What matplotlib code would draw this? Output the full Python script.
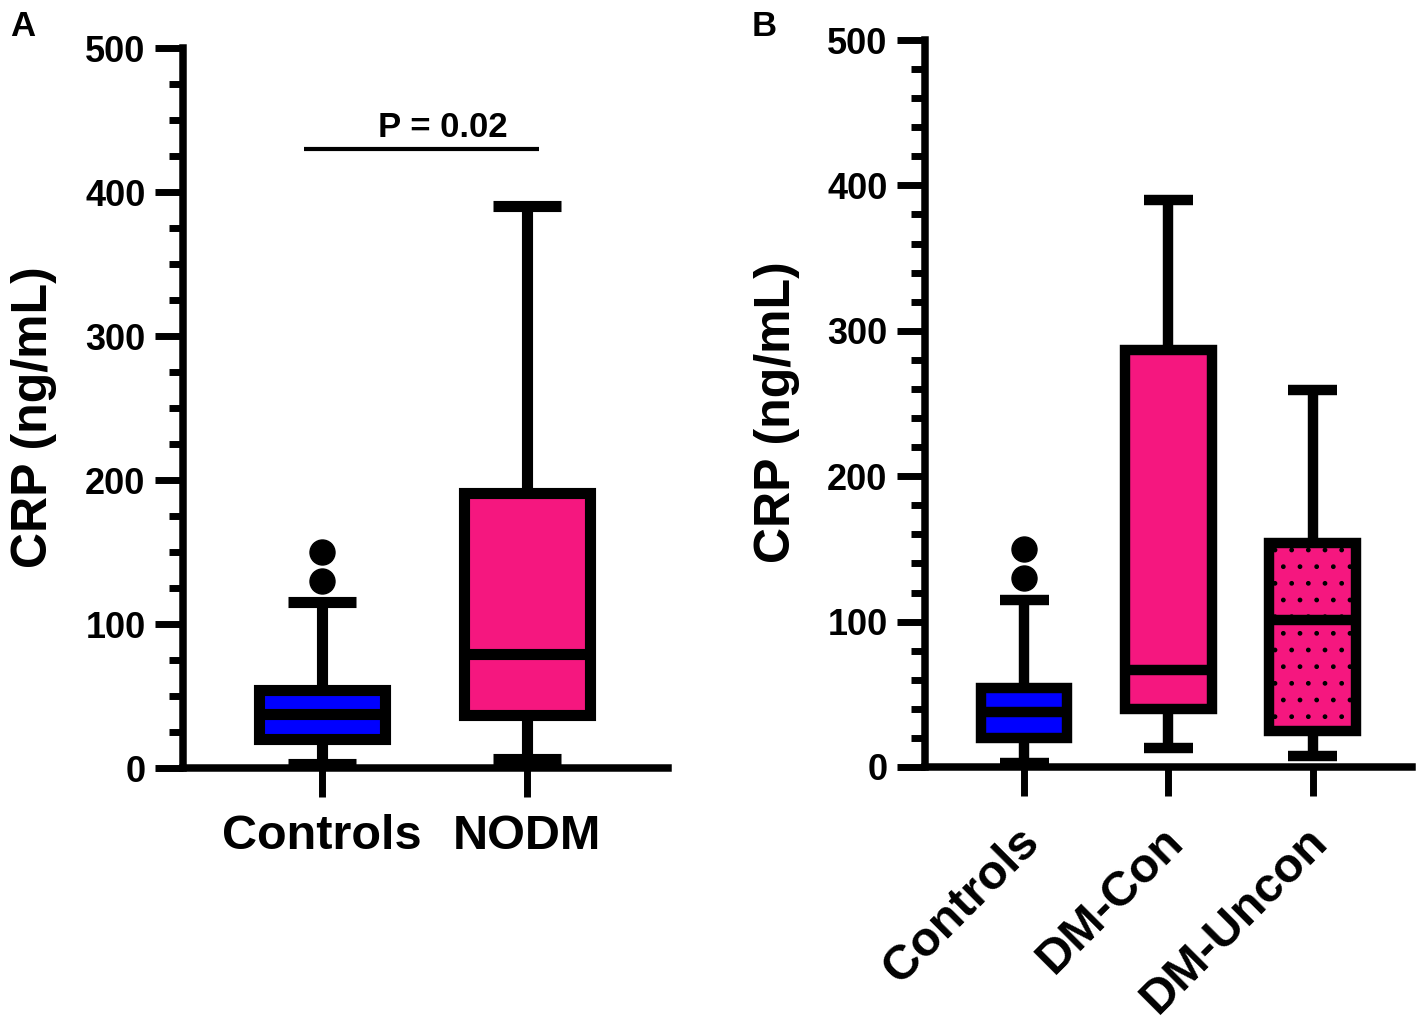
import matplotlib
matplotlib.use("Agg")
import matplotlib.pyplot as plt
from matplotlib.ticker import MultipleLocator
from matplotlib.transforms import ScaledTranslation

plt.rcParams['font.family'] = ['Liberation Sans', 'DejaVu Sans']
plt.rcParams['font.weight'] = 'bold'

# panel A: Controls vs NODM
groups_a = ['Controls', 'NODM']
q1_a = [20, 37]
med_a = [37.5, 79]
q3_a = [54, 191]
lo_a = [3, 6]
hi_a = [115, 390]
fliers_a = [[130, 150], []]

# panel B: Controls, DM-Con, DM-Uncon
groups_b = ['Controls', 'DM-Con', 'DM-Uncon']
q1_b = [20, 40, 25]
med_b = [37.5, 66.5, 101]
q3_b = [54, 287, 154]
lo_b = [3, 13, 7.5]
hi_b = [115, 390, 259]
fliers_b = [[130, 150], [], []]
hatches_b = [None, None, '.']

colors_a = ['#0000FF', '#F5177F']
colors_b = ['#0000FF', '#F5177F', '#F5177F']

p_text = 'P = 0.02'
p_bar_x = [0.91, 2.06]
p_bar_y = 430
p_text_xy = (1.59, 438)

BLACK = 'black'


def stats(q1, med, q3, lo, hi, fl, names):
    out = []
    for i in range(len(names)):
        out.append({'q1': q1[i], 'med': med[i], 'q3': q3[i],
                    'whislo': lo[i], 'whishi': hi[i], 'fliers': fl[i],
                    'label': names[i]})
    return out


def draw_box(ax, st, colors, lw, width, capw, hatches=None):
    n = len(st)
    pos = list(range(1, n + 1))
    bp = ax.bxp(st, positions=pos, widths=width, capwidths=capw,
                patch_artist=True, showfliers=True,
                boxprops=dict(linewidth=lw, edgecolor=BLACK, joinstyle='miter'),
                medianprops=dict(color=BLACK, linewidth=lw, solid_capstyle='butt'),
                whiskerprops=dict(color=BLACK, linewidth=lw, solid_capstyle='butt'),
                capprops=dict(color=BLACK, linewidth=lw, solid_capstyle='butt'),
                flierprops=dict(marker='o', markersize=18, markerfacecolor=BLACK,
                                markeredgecolor=BLACK))
    for i, b in enumerate(bp['boxes']):
        b.set_facecolor(colors[i])
        if hatches and hatches[i]:
            b.set_hatch(hatches[i])
    for b in bp['boxes']:
        b.set_zorder(3)
    for m in bp['medians']:
        m.set_zorder(4)
    return bp


def style_axis(ax, minor, ylab_x):
    ax.set_ylim(0, 500)
    ax.yaxis.set_major_locator(MultipleLocator(100))
    ax.yaxis.set_minor_locator(MultipleLocator(minor))
    for s in ['top', 'right']:
        ax.spines[s].set_visible(False)
    for s in ['left', 'bottom']:
        ax.spines[s].set_linewidth(5.4)
        ax.spines[s].set_capstyle('projecting')
    ax.tick_params(axis='y', which='major', length=20, width=5, pad=7, labelsize=26)
    ax.tick_params(axis='y', which='minor', length=10, width=5)
    ax.tick_params(axis='x', which='major', length=21, width=5, labelsize=35)
    ax.set_ylabel('CRP (ng/mL)', fontsize=36, fontweight='bold')
    ax.yaxis.set_label_coords(ylab_x, 0.488)
    for t in ax.get_yticklabels():
        t.set_fontweight('bold')


fig = plt.figure(figsize=(14.21, 10.24), dpi=100)

ax1 = fig.add_axes([183 / 1421, 1 - 768 / 1024, (668 - 183) / 1421, (768 - 48) / 1024])
draw_box(ax1, stats(q1_a, med_a, q3_a, lo_a, hi_a, fliers_a, groups_a),
         colors_a, 8, 0.615, 0.33)
ax1.set_xlim(0.322, 2.688)
style_axis(ax1, 25, -0.26)
ax1.tick_params(axis='x', pad=12)
ax1.set_xticks([1, 2])
ax1.set_xticklabels(groups_a, fontsize=35, fontweight='bold')
ax1.plot(p_bar_x, [p_bar_y, p_bar_y], color=BLACK, linewidth=3,
         solid_capstyle='butt', clip_on=False)
ax1.text(p_text_xy[0], p_text_xy[1], p_text, ha='center', va='baseline',
         fontsize=25, fontweight='bold')

ax2 = fig.add_axes([925 / 1421, 1 - 767 / 1024, (1412 - 925) / 1421, (767 - 40) / 1024])
draw_box(ax2, stats(q1_b, med_b, q3_b, lo_b, hi_b, fliers_b, groups_b),
         colors_b, 7.5, 0.6, 0.34, hatches_b)
ax2.set_xlim(0.3125, 3.69)
style_axis(ax2, 20, -0.257)
ax2.tick_params(axis='x', pad=10)
ax2.set_xticks([1, 2, 3])
ax2.set_xticklabels(groups_b, fontsize=35, fontweight='bold', rotation=45,
                    ha='right', va='top', rotation_mode='anchor')
shift = ScaledTranslation(-0.08, -0.09, fig.dpi_scale_trans)
for t in ax2.get_xticklabels():
    t.set_transform(t.get_transform() + shift)

fig.text(10 / 1421, 1 - 10 / 1024, 'A', fontsize=25, fontweight='bold', ha='left', va='top')
fig.text(752 / 1421, 1 - 10 / 1024, 'B', fontsize=25, fontweight='bold', ha='left', va='top')

fig.savefig('out.png', dpi=100)
